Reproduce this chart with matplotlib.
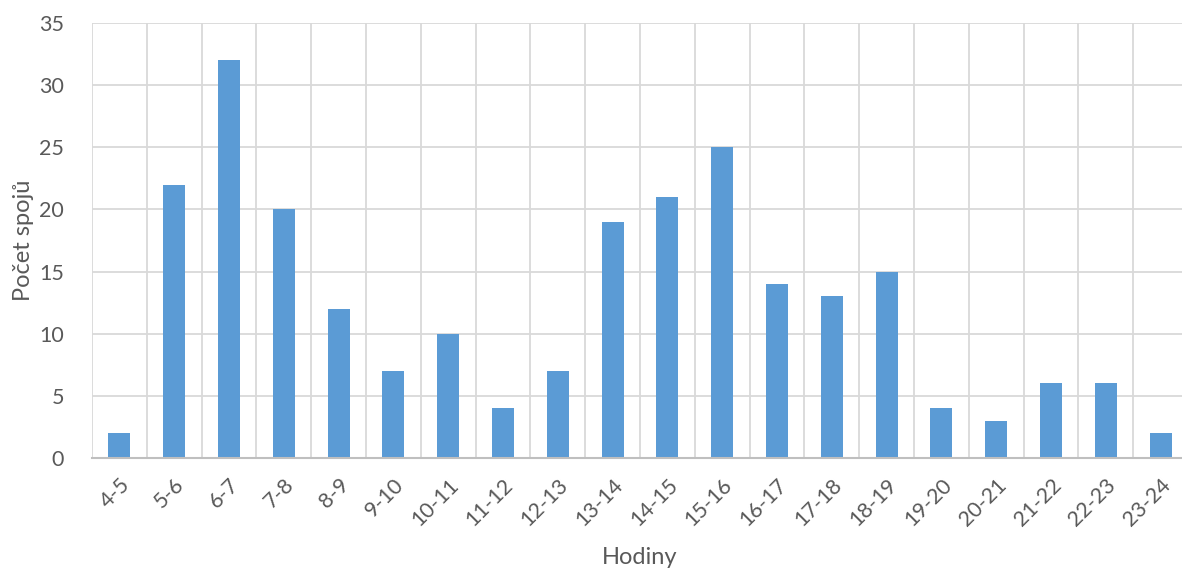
import matplotlib
matplotlib.use("Agg")
import matplotlib.pyplot as plt
import numpy as np

categories = ["4-5", "5-6", "6-7", "7-8", "8-9", "9-10", "10-11", "11-12", "12-13", "13-14",
              "14-15", "15-16", "16-17", "17-18", "18-19", "19-20", "20-21", "21-22", "22-23", "23-24"]
values = [2, 22, 32, 20, 12, 7, 10, 4, 7, 19, 21, 25, 14, 13, 15, 4, 3, 6, 6, 2]
yticks = [0, 5, 10, 15, 20, 25, 30, 35]

plt.rcParams['font.family'] = ['Lato', 'DejaVu Sans']
txt = '#595959'

fig = plt.figure(figsize=(11.82, 5.72), dpi=100)
W, H = 1182, 572
left, right, top, bottom = 92, 1188, 23, 458
ax = fig.add_axes([left / W, 1 - bottom / H, (right - left) / W, (bottom - top) / H])

x = np.arange(len(categories))
ax.bar(x, values, width=0.4, color='#5B9BD5', zorder=3)
ax.set_xlim(-0.5, len(categories) - 0.5)
ax.set_ylim(0, 35)
ax.set_yticks(yticks)
ax.set_yticklabels([str(v) for v in yticks], fontsize=15.5, color=txt)
ax.set_xticks(x)
ax.set_xticklabels(categories, rotation=45, ha='right', rotation_mode='anchor', fontsize=15.5, color=txt)
ax.tick_params(axis='both', length=0)
ax.tick_params(axis='y', pad=20)
ax.tick_params(axis='x', pad=12)

for v in yticks[1:]:
    ax.axhline(v, color='#D9D9D9', lw=1.3, zorder=1)
for xv in np.arange(len(categories) + 1) - 0.5:
    ax.axvline(xv, color='#D9D9D9', lw=1.3, zorder=1)

for s in ['top', 'right', 'left']:
    ax.spines[s].set_visible(False)
ax.spines['bottom'].set_color('#BFBFBF')
ax.spines['bottom'].set_linewidth(1.5)
ax.spines['bottom'].set_zorder(4)

fig.text(640 / W, 1 - 558 / H, 'Hodiny', ha='center', va='center', fontsize=17, color=txt)
fig.text(24 / W, 1 - 240 / H, 'Počet spojů', ha='center', va='center', rotation=90, fontsize=17, color=txt)

fig.savefig('out.png', dpi=100)
